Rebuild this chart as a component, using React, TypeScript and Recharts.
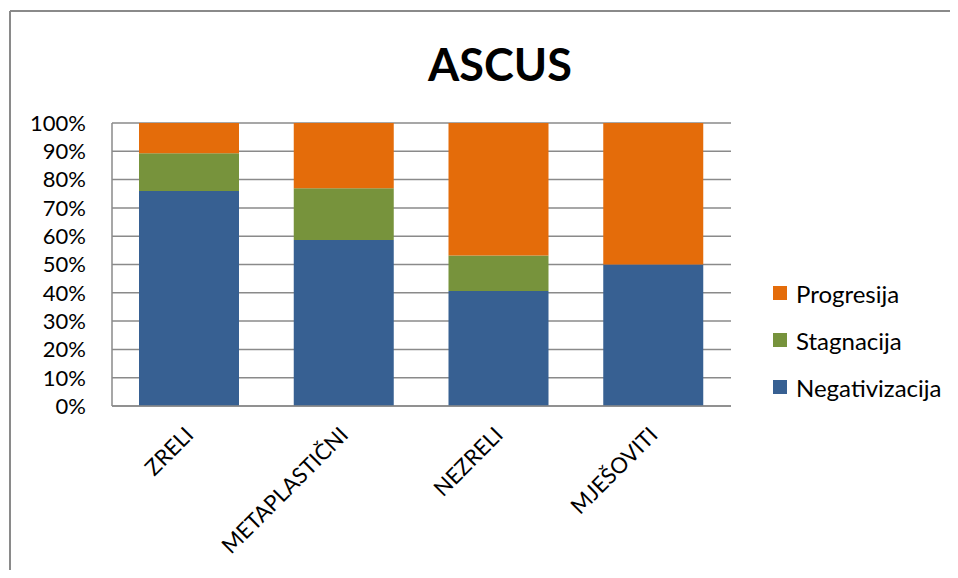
import React from "react"
import { BarChart, Bar, XAxis, YAxis, CartesianGrid } from "recharts"

const categories = ["ZRELI", "METAPLASTIČNI", "NEZRELI", "MJEŠOVITI"]
const negativizacija = [76, 58.7, 40.6, 50]
const stagnacija = [13.3, 18.2, 12.6, 0]
const progresija = [10.7, 23.1, 46.8, 50]
const yTicks = [0, 10, 20, 30, 40, 50, 60, 70, 80, 90, 100]

const series = [
  { key: "Negativizacija", color: "#376092", values: negativizacija },
  { key: "Stagnacija", color: "#77933C", values: stagnacija },
  { key: "Progresija", color: "#E46C0A", values: progresija },
]

const FONT = "Lato, 'Open Sans', sans-serif"

const data = categories.map((name, i) => {
  const row: any = { name }
  series.forEach((s) => {
    row[s.key] = s.values[i]
  })
  return row
})

const AngledTick = (props: any) => {
  const { x, y, payload } = props
  return (
    <g transform={`translate(${x},${y + 25})`}>
      <text
        transform="rotate(-45)"
        textAnchor="end"
        dy="0.35em"
        fill="#000"
        fontSize={22}
        fontFamily={FONT}
      >
        {payload.value}
      </text>
    </g>
  )
}

export default function App() {
  return (
    <div style={{ position: "relative", width: 942, height: 562, overflow: "hidden", fontFamily: FONT }}>
      {/* chart frame, cut off at right and bottom */}
      <svg width={942} height={562} style={{ position: "absolute", left: 0, top: 0 }}>
        <line x1={2} y1={3} x2={942} y2={3} stroke="#8a8a8a" strokeWidth={2} />
        <line x1={2} y1={3} x2={2} y2={562} stroke="#8a8a8a" strokeWidth={2} />
      </svg>
      <div
        style={{
          position: "absolute",
          left: 0,
          width: 942,
          top: 30,
          paddingLeft: 42,
          boxSizing: "border-box",
          textAlign: "center",
          fontSize: 45,
          fontWeight: 700,
          color: "#000",
          lineHeight: "52px",
        }}
      >
        ASCUS
      </div>
      <div style={{ position: "absolute", left: 0, top: 0 }}>
        <BarChart
          width={942}
          height={562}
          data={data}
          margin={{ top: 115, right: 219, bottom: 134, left: 0 }}
        >
          <CartesianGrid vertical={false} stroke="#8a8a8a" strokeWidth={1.5} />
          <XAxis
            dataKey="name"
            interval={0}
            tickLine={false}
            tickSize={0}
            tickMargin={0}
            axisLine={{ stroke: "#8a8a8a", strokeWidth: 1.5 }}
            tick={<AngledTick />}
          />
          <YAxis
            width={104}
            domain={[0, 100]}
            ticks={yTicks}
            interval={0}
            tickFormatter={(v) => `${v}%`}
            tickLine={false}
            tickSize={0}
            tickMargin={26}
            axisLine={{ stroke: "#8a8a8a", strokeWidth: 1.5 }}
            tick={{ fill: "#000", fontSize: 22, fontFamily: FONT }}
          />
          {series.map((s) => (
            <Bar
              key={s.key}
              dataKey={s.key}
              stackId="a"
              fill={s.color}
              barSize={100}
              isAnimationActive={false}
            />
          ))}
        </BarChart>
      </div>
      {/* legend, reversed order like the original */}
      {series
        .slice()
        .reverse()
        .map((s, i) => (
          <div
            key={s.key}
            style={{
              position: "absolute",
              left: 765,
              top: 285 + i * 47 - 15,
              height: 30,
              display: "flex",
              alignItems: "center",
              fontSize: 24,
              color: "#000",
            }}
          >
            <span style={{ width: 14, height: 14, background: s.color, marginRight: 9, display: "inline-block" }} />
            {s.key}
          </div>
        ))}
    </div>
  )
}
